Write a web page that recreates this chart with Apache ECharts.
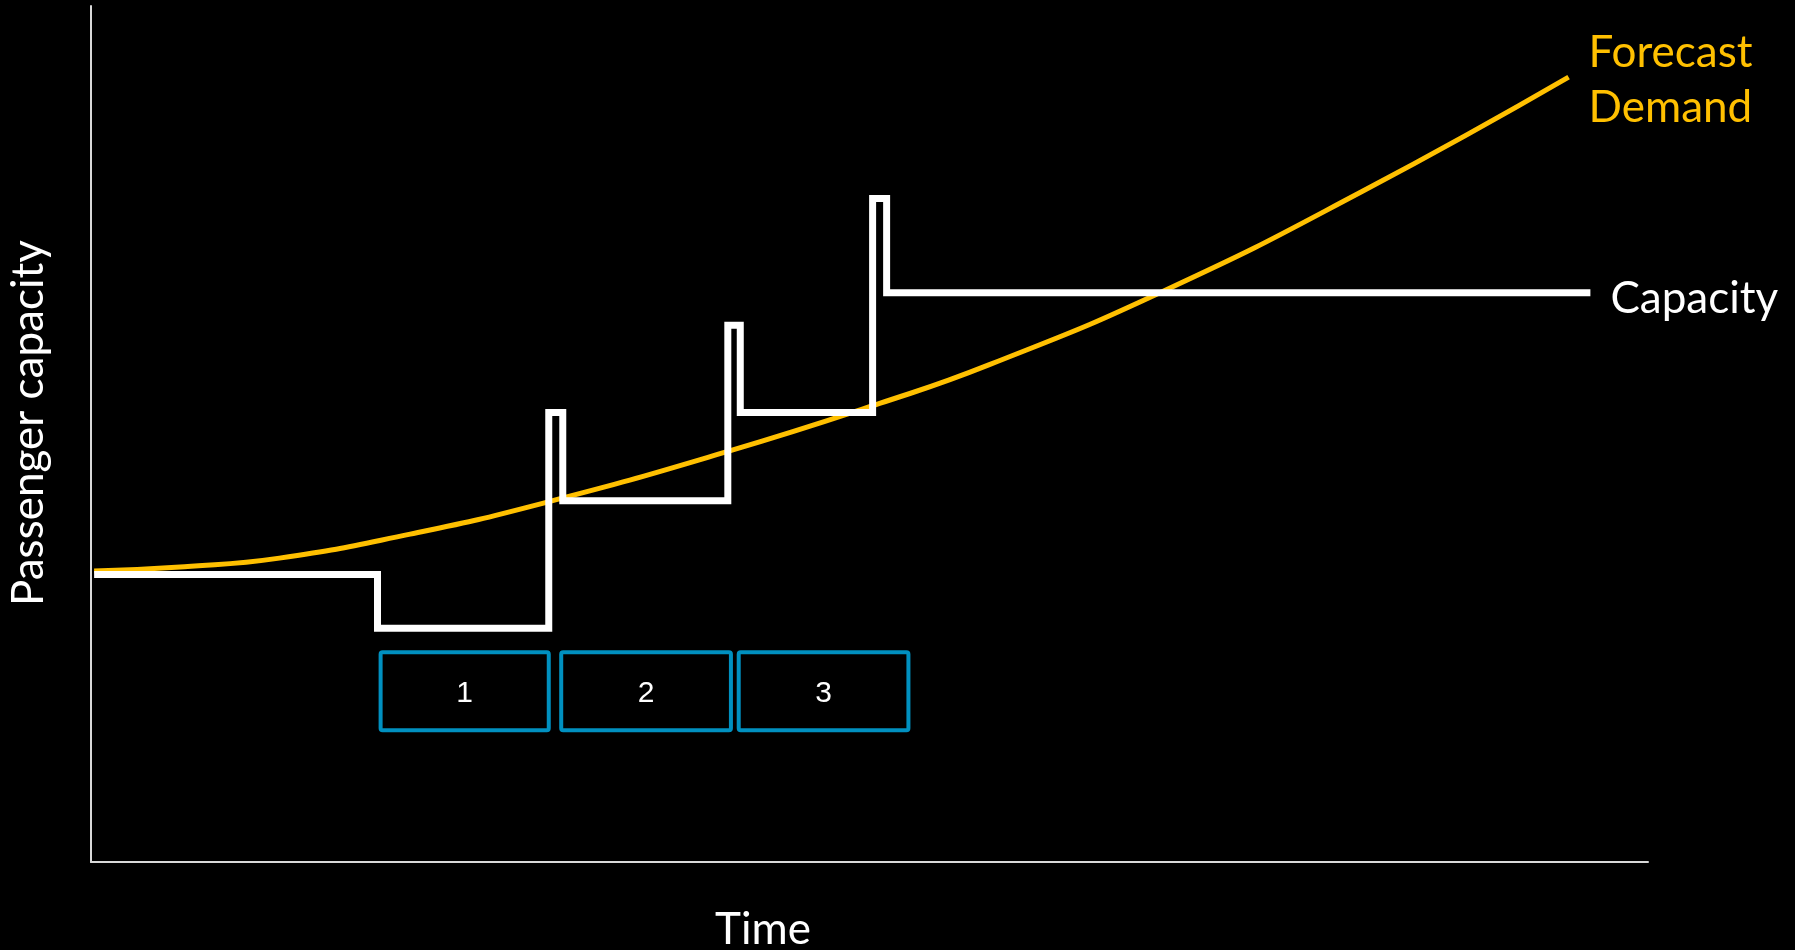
<!DOCTYPE html>
<html>
<head>
<meta charset="utf-8">
<script src="https://cdn.jsdelivr.net/npm/echarts@6/dist/echarts.min.js"></script>
<style>
  html, body { margin: 0; padding: 0; background: #000; }
  #chart { width: 1795px; height: 950px; }
</style>
</head>
<body>
<div id="chart"></div>
<script>
// time runs 0..100, capacity 0..100 (arbitrary units, no ticks shown)
const demandPoints = [
  [0.2, 34.0], [6.0, 34.5], [12.1, 35.5], [20.5, 38.3], [29.0, 41.9],
  [40.8, 47.9], [50.7, 53.6], [57.7, 58.1], [69.0, 66.8], [81.6, 78.3],
  [94.9, 91.7]
]
const capacityPoints = [
  [0.2, 33.6], [18.4, 33.6], [18.4, 27.3], [29.4, 27.3], [29.4, 52.5],
  [30.3, 52.5], [30.3, 42.2], [40.9, 42.2], [40.9, 62.7], [41.7, 62.7],
  [41.7, 52.5], [50.2, 52.5], [50.2, 77.5], [51.1, 77.5], [51.1, 66.5],
  [96.3, 66.5]
]
// phases: start, end, label (drawn as boxes under the steps)
const phaseStart = [18.6, 30.2, 41.6]
const phaseEnd = [29.4, 41.1, 52.5]
const phaseLabels = ['1', '2', '3']
const phaseTop = 24.5
const phaseBottom = 15.4

const GOLD = '#FFC000'
const BLUE = '#0090C0'
const FONT = 'Lato'

const chart = echarts.init(document.getElementById('chart'))

chart.setOption({
  backgroundColor: '#000',
  animation: false,
  grid: { left: 91, right: 147, top: 6, bottom: 88, outerBoundsMode: 'none' },
  xAxis: {
    type: 'value',
    min: 0,
    max: 100,
    name: 'Time',
    nameLocation: 'middle',
    nameGap: 46,
    nameTextStyle: { color: '#fff', fontSize: 44, fontFamily: FONT, padding: [0, 213, 0, 0] },
    axisLine: { show: true, lineStyle: { color: '#d9d9d9', width: 2 } },
    axisTick: { show: false },
    axisLabel: { show: false },
    splitLine: { show: false },
  },
  yAxis: {
    type: 'value',
    min: 0,
    max: 100,
    name: 'Passenger capacity',
    nameLocation: 'middle',
    nameGap: 40,
    nameTextStyle: { color: '#fff', fontSize: 44, fontFamily: FONT, padding: [0, 0, 0, 22] },
    axisLine: { show: true, lineStyle: { color: '#d9d9d9', width: 2 } },
    axisTick: { show: false },
    axisLabel: { show: false },
    splitLine: { show: false },
  },
  series: [
    {
      name: 'Forecast Demand',
      type: 'line',
      data: demandPoints,
      smooth: 0.5,
      showSymbol: false,
      lineStyle: { color: GOLD, width: 5 },
      endLabel: {
        show: true,
        formatter: 'Forecast\nDemand',
        color: GOLD,
        fontSize: 44,
        lineHeight: 55,
        fontFamily: FONT,
        distance: 20,
        offset: [0, 3],
      },
      z: 2,
    },
    {
      name: 'Capacity',
      type: 'line',
      data: capacityPoints,
      showSymbol: false,
      lineStyle: { color: '#fff', width: 7, join: 'miter', cap: 'butt' },
      endLabel: {
        show: true,
        formatter: 'Capacity',
        color: '#fff',
        fontSize: 44,
        fontFamily: FONT,
        distance: 20,
        offset: [0, 6],
      },
      z: 3,
    },
    {
      type: 'custom',
      data: phaseLabels.map((l, i) => [phaseStart[i], phaseEnd[i], l]),
      renderItem: function (params, api) {
        const p0 = api.coord([api.value(0), phaseTop])
        const p1 = api.coord([api.value(1), phaseBottom])
        return {
          type: 'rect',
          shape: { x: p0[0], y: p0[1], width: p1[0] - p0[0], height: p1[1] - p0[1], r: 2 },
          style: { fill: 'none', stroke: BLUE, lineWidth: 4 },
          textContent: {
            style: {
              text: phaseLabels[params.dataIndex],
              fill: '#fff',
              fontSize: 30,
              fontFamily: 'Liberation Sans',
            },
          },
          textConfig: { position: 'inside', offset: [0, 3] },
        }
      },
      z: 4,
    },
  ],
})
</script>
</body>
</html>
